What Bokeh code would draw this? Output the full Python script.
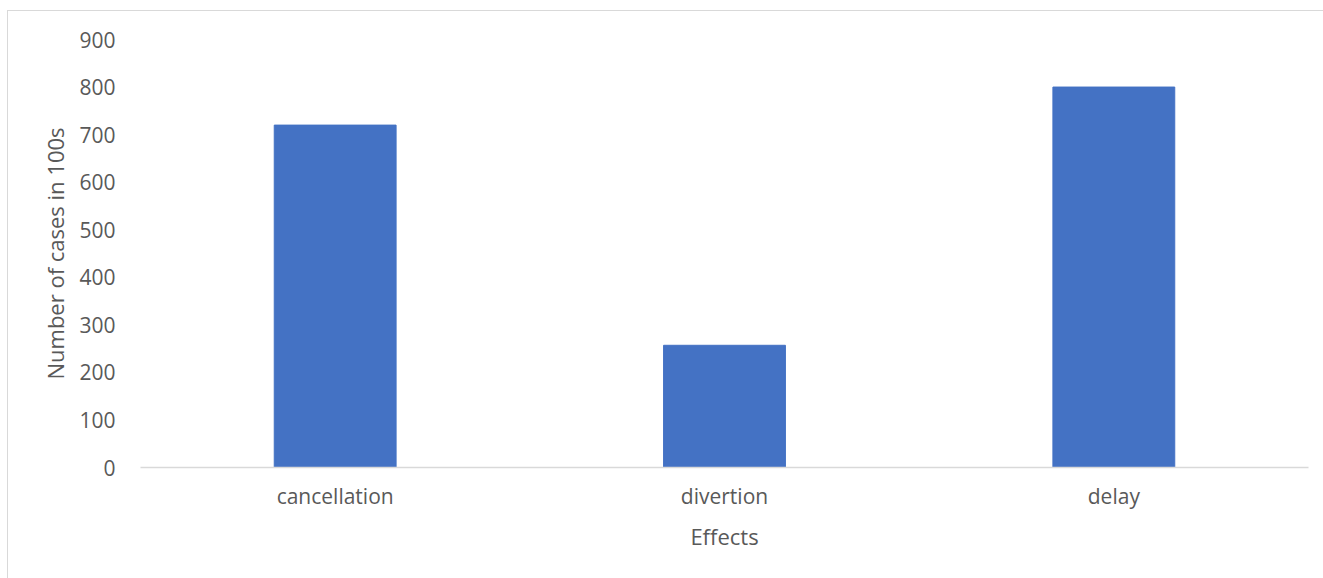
from bokeh.plotting import figure
from bokeh.models import Range1d, FixedTicker
from bokeh.embed import file_html
from bokeh.resources import INLINE

categories = ["cancellation", "divertion", "delay"]
values = [720, 257, 800]
y_ticks = [0, 100, 200, 300, 400, 500, 600, 700, 800, 900]

FONT = "Open Sans"
TXT = "#595959"

p = figure(x_range=categories, y_range=Range1d(0, 900),
           width=1316, height=568, output_backend="svg", toolbar_location=None,
           min_border_left=132, min_border_right=16, min_border_top=28, min_border_bottom=112,
           margin=(10, 0, 0, 7),
           styles={"border-left": "1.5px solid #d9d9d9", "border-top": "1.5px solid #d9d9d9"})
p.x_range.range_padding = 0
p.vbar(x=categories, top=values, width=0.313, color="#4472C4")

p.outline_line_color = None
p.xgrid.grid_line_color = None
p.ygrid.grid_line_color = None

p.yaxis.ticker = FixedTicker(ticks=y_ticks)
p.yaxis.axis_line_color = None
p.yaxis.major_tick_line_color = None
p.yaxis.minor_tick_line_color = None
p.yaxis.major_label_standoff = 19
p.yaxis.axis_label = "Number of cases in 100s"
p.yaxis.axis_label_standoff = 6

p.xaxis.axis_line_color = "#d9d9d9"
p.xaxis.axis_line_width = 1.5
p.xaxis.major_tick_line_color = None
p.xaxis.minor_tick_line_color = None
p.xaxis.major_label_standoff = 8
p.xaxis.axis_label = "Effects"
p.xaxis.axis_label_standoff = 8

for ax in (p.xaxis, p.yaxis):
    ax.major_label_text_font = FONT
    ax.major_label_text_font_size = "21px"
    ax.major_label_text_color = TXT
    ax.axis_label_text_font = FONT
    ax.axis_label_text_font_size = "22px"
    ax.axis_label_text_font_style = "normal"
    ax.axis_label_text_color = TXT

open("out.html", "w").write(file_html(p, INLINE))
